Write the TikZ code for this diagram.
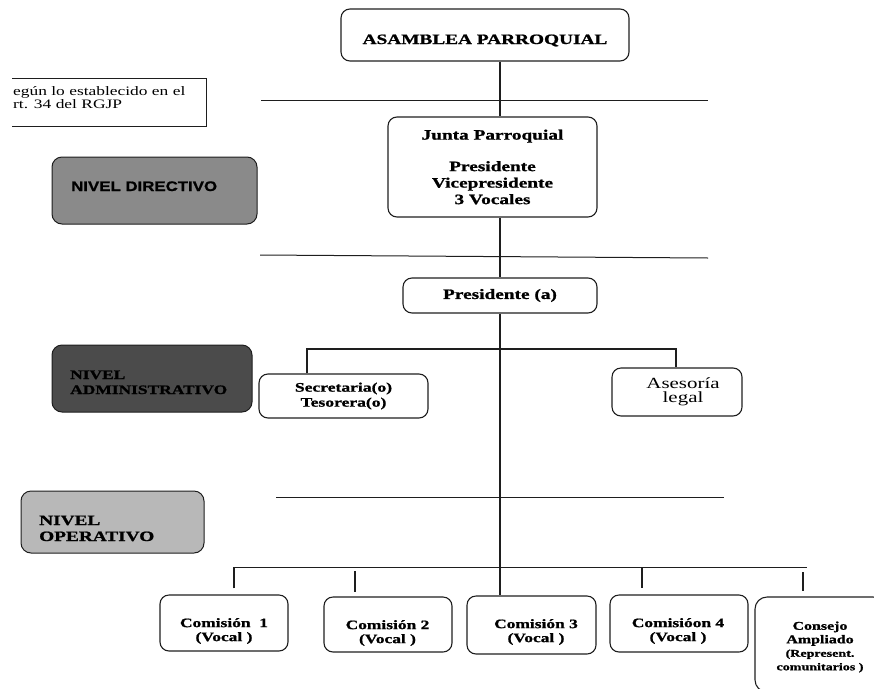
\documentclass[tikz,border=0pt]{standalone}
\usepackage{fontspec}
\setmainfont{Liberation Serif}
\newfontfamily\tms[FakeStretch=1.35, BoldFeatures={FakeBold=1.2}]{Liberation Serif}
\newfontfamily\hlv[FakeStretch=1.22, BoldFeatures={FakeBold=1}]{Liberation Sans}
\usetikzlibrary{calc}
\definecolor{dirgray}{HTML}{8A8A8A}
\definecolor{admgray}{HTML}{4B4B4B}
\definecolor{opgray}{HTML}{B8B8B8}
\definecolor{edge}{HTML}{1E1E1E}
\begin{document}
\begin{tikzpicture}[x=1pt,y=-1pt,
  box/.style={draw=edge, line width=1.1pt, rounded corners=9pt, inner sep=0pt, align=center,
    font=\tms\bfseries\fontsize{14.3}{16.5}\selectfont},
  txt/.style={inner sep=0pt, align=center},
  lvl/.style={draw=edge, line width=1pt, rounded corners=10pt, inner sep=0pt},
  lvltxt/.style={inner sep=0pt, anchor=base west},
  conn/.style={line width=1.2pt, draw=edge},
  sepline/.style={line width=1pt, draw=edge}]
\useasboundingbox (0,0) rectangle (874,688);
\clip (0,0) rectangle (874,688);

% note box
\draw[line width=0.9pt, draw=edge] (12,78) -- (206,78) -- (206,126) -- (12,126);
\node[lvltxt, font=\tms\fontsize{12.9}{13}\selectfont] (note1) at (13,95) {egún lo establecido en el};
\node[lvltxt, font=\tms\fontsize{12.9}{13}\selectfont] (note2) at (13,108) {rt. 34 del RGJP};

% level separator lines
\draw[sepline] (261,100) -- (708,100);
\draw[sepline] (260,255) -- (708,258);
\draw[sepline] (276,497) -- (724,497);

% level boxes
\node[lvl, fill=dirgray, minimum width=205pt, minimum height=67pt] (dir) at (154.5,190.5) {};
\node[lvltxt, font=\hlv\bfseries\fontsize{13.8}{15}\selectfont] (dirt) at (71,191) {NIVEL DIRECTIVO};
\node[lvl, fill=admgray, minimum width=200pt, minimum height=67pt] (adm) at (152,378.5) {};
\node[lvltxt, font=\tms\bfseries\fontsize{12.9}{15}\selectfont] (admt1) at (70,379) {NIVEL};
\node[lvltxt, font=\tms\bfseries\fontsize{12.9}{15}\selectfont] (admt2) at (70,394) {ADMINISTRATIVO};
\node[lvl, fill=opgray, minimum width=183pt, minimum height=62pt] (op) at (112.5,522) {};
\node[lvltxt, font=\tms\bfseries\fontsize{14.3}{16}\selectfont] (opt1) at (39,525) {NIVEL};
\node[lvltxt, font=\tms\bfseries\fontsize{14.3}{16}\selectfont] (opt2) at (39,541) {OPERATIVO};

% main boxes
\node[box, minimum width=288pt, minimum height=52pt, text height=18pt, text depth=0pt] (asam) at (485,35) {ASAMBLEA PARROQUIAL};
\node[box, minimum width=209pt, minimum height=100pt] (junta) at (492.5,167) {Junta Parroquial\\[15pt]Presidente\\Vicepresidente\\3 Vocales};
\node[box, minimum width=194pt, minimum height=35pt] (pres) at (500,295.5) {Presidente (a)};
\node[box, font=\tms\bfseries\fontsize{13}{15}\selectfont, minimum width=169pt, minimum height=44pt] (secr) at (343.5,396) {Secretaria(o)\\Tesorera(o)};
\node[box, minimum width=130pt, minimum height=48pt] (ases) at (677,392) {};
\node[txt, font=\tms\fontsize{15.5}{14}\selectfont] (asest) at (683,392) {Asesoría\\legal};

% commission boxes
\tikzset{ctxt/.style={txt, font=\tms\bfseries\fontsize{12.9}{14}\selectfont}}
\node[box, minimum width=128pt, minimum height=56pt] (c1) at (224,623) {};
\node[ctxt] (c1t) at (224,631) {Comisión\ \ 1\\(Vocal )};
\node[box, minimum width=128pt, minimum height=55pt] (c2) at (388,624.5) {};
\node[ctxt] (c2t) at (387.5,633) {Comisión 2\\(Vocal )};
\node[box, minimum width=129pt, minimum height=58pt] (c3) at (531.5,625) {};
\node[ctxt] (c3t) at (536,632) {Comisión 3\\(Vocal )};
\node[box, minimum width=138pt, minimum height=57pt] (c4) at (679,623.5) {};
\node[ctxt] (c4t) at (678,631) {Comisióon 4\\(Vocal )};
\node[box, minimum width=130pt, minimum height=95pt, rounded corners=12pt] (c5) at (820,644.5) {};
\node[txt, font=\tms\bfseries\fontsize{11.8}{13.5}\selectfont] (c5t) at (820,647) {Consejo\\Ampliado\\\fontsize{10.4}{12}\selectfont(Represent.\\\fontsize{10.4}{12}\selectfont comunitarios )};

% connectors
\draw[conn] (asam.south -| pres.north) -- (junta.north -| pres.north);
\draw[conn] (junta.south -| pres.north) -- (pres.north);
\draw[conn] (pres.south) -- (c3.north -| pres.south);

\coordinate (brL) at (307,349);
\coordinate (brR) at (676,349);
\draw[conn] (secr.north -| brL) -- (brL) -- (brR) -- (ases.north -| brR);

\coordinate (busL) at (234,567.5);
\coordinate (busR) at (807,567.5);
\coordinate (c2x) at (355,571);
\coordinate (c4x) at (642,567.5);
\coordinate (c5x) at (803,572);
\draw[conn] ($(c1.north -| busL)+(0,-6)$) -- (busL) -- (busR);
\draw[conn] (c2x) -- ($(c2.north -| c2x)+(0,-4)$);
\draw[conn] (c4x) -- ($(c4.north -| c4x)+(0,-6)$);
\draw[conn] (c5x) -- ($(c5.north -| c5x)+(0,-5)$);
\end{tikzpicture}
\end{document}
